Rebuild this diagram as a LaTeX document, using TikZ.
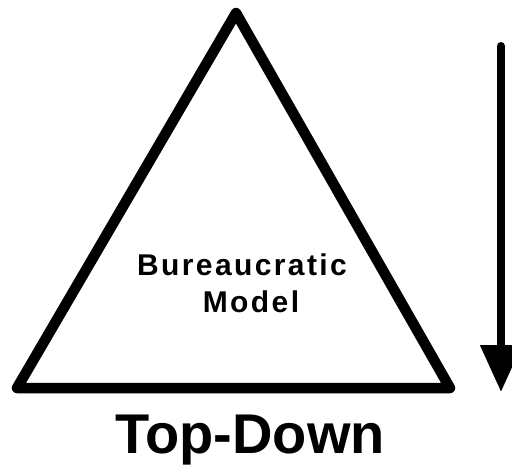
\documentclass[tikz,border=0pt]{standalone}
\usepackage{fontspec}
\setmainfont{Liberation Sans}
\usetikzlibrary{arrows.meta}
\tikzset{pyramid/.style={line width=10.5pt, line join=round}}
\tikzset{flow/.style={line width=8pt, line cap=round, -{Triangle[width=40pt, length=47pt]}}}
\tikzset{inner/.style={font=\bfseries\fontsize{30}{37}\selectfont\addfontfeature{LetterSpace=8}, inner sep=0pt}}
\tikzset{caption/.style={font=\bfseries\fontsize{56}{60}\selectfont, inner sep=0pt}}

\begin{document}
\begin{tikzpicture}[x=1pt, y=-1pt]
    \useasboundingbox (0, 0) rectangle (512, 466);
    \coordinate (apex) at (236, 13);
    \coordinate (left) at (17, 388);
    \coordinate (right) at (450, 388);
    \draw[pyramid] (apex) -- (right) -- (left) -- cycle;
    \node[inner, anchor=base] (bureau) at (242, 275) {Bureaucratic};
    \node[inner, anchor=base] (model) at (251, 312) {Model};
    \coordinate (start) at (501, 46);
    \coordinate (tip) at (501, 392);
    \draw[flow] (start) -- (tip);
    \node[caption, anchor=base] (topdown) at (250, 453) {Top-Down};
\end{tikzpicture}
\end{document}
